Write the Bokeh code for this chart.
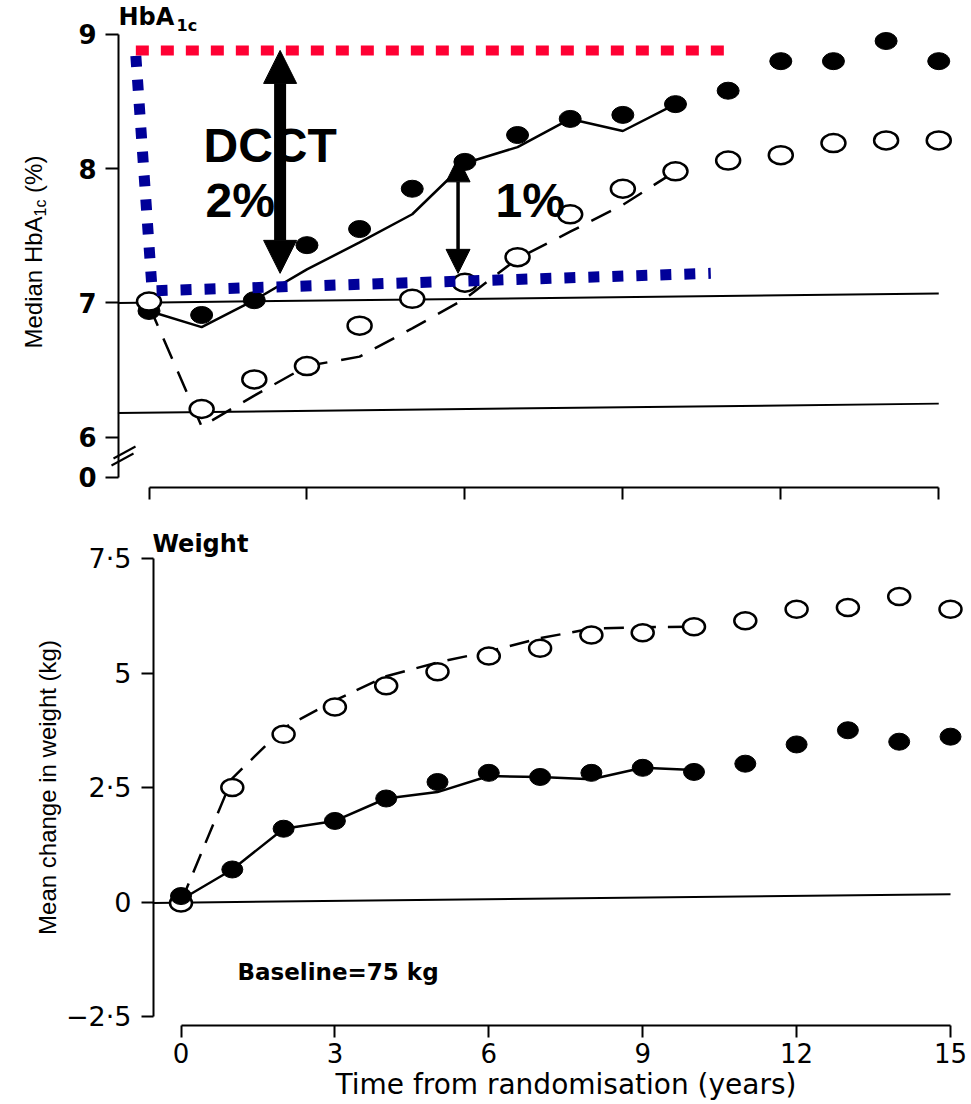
import math
from bokeh.plotting import figure
from bokeh.models import Range1d, FixedTicker, Label, Arrow, NormalHead, LinearAxis
from bokeh.embed import file_html
from bokeh.resources import INLINE

# ---------------- data ----------------
years = list(range(16))
line_years = list(range(11))

hba_conventional = [6.94, 6.91, 7.02, 7.43, 7.55, 7.85, 8.05, 8.25, 8.37, 8.40, 8.48, 8.58, 8.80, 8.80, 8.95, 8.80]
hba_intensive = [7.01, 6.21, 6.43, 6.53, 6.83, 7.03, 7.15, 7.34, 7.66, 7.85, 7.98, 8.06, 8.10, 8.19, 8.21, 8.21]
hba_conventional_line = [6.94, 6.82, 7.02, 7.25, 7.45, 7.66, 8.04, 8.16, 8.37, 8.28, 8.48]
hba_intensive_line = [6.98, 6.08, 6.31, 6.53, 6.60, 6.81, 7.03, 7.33, 7.53, 7.73, 7.98]

wt_conventional = [0.13, 0.71, 1.60, 1.77, 2.26, 2.62, 2.82, 2.73, 2.82, 2.93, 2.84, 3.02, 3.44, 3.75, 3.50, 3.61]
wt_intensive = [-0.02, 2.50, 3.66, 4.26, 4.72, 5.03, 5.37, 5.54, 5.83, 5.88, 6.01, 6.14, 6.39, 6.43, 6.67, 6.39]
wt_conventional_line = [0.05, 0.71, 1.60, 1.77, 2.26, 2.40, 2.75, 2.73, 2.68, 2.93, 2.88]
wt_intensive_line = [0.00, 2.70, 3.80, 4.40, 4.93, 5.23, 5.47, 5.76, 5.97, 6.00, 6.01]

x_ticks = [0, 3, 6, 9, 12, 15]
hba_ticks = [5.7, 6, 7, 8, 9]
hba_tick_labels = {5.7: "0", 6: "6", 7: "7", 8: "8", 9: "9"}
wt_ticks = [-2.5, 0, 2.5, 5, 7.5]
wt_tick_labels = {-2.5: "\u22122\u00b75", 0: "0", 2.5: "2\u00b75", 5: "5", 7.5: "7\u00b75"}

# reference lines
hba_ref_x = [-0.59, 15.0]
hba_ref_hi = [7.00, 7.07]
hba_ref_lo = [6.18, 6.25]
wt_ref_x = [-0.55, 15.0]
wt_ref_y = [-0.02, 0.17]

# DCCT overlay
red_x = [-0.25, 10.93]
red_y = [8.88, 8.88]
blue_x = [-0.25, 0.06, 10.67]
blue_y = [8.84, 7.09, 7.22]
big_arrow_x, big_arrow_y0, big_arrow_y1 = 2.49, 7.22, 8.88
small_arrow_x, small_arrow_y0, small_arrow_y1 = 5.87, 7.22, 8.08

# ---------------- page geometry (one frame covering the whole canvas) ----------------
W, H = 971, 1104
H_X0, H_XS = 148.5, 52.65     # HbA1c panel: px of year 0, px per year
H_Y7, H_YS = 302.4, 134.3     # px of 7 %, px per %
W_X0, W_XS = 180.5, 51.3      # weight panel
W_Y0, W_YS = 901.5, 45.8

BASE_SHIFT = 0.375  # Bokeh label "alphabetic" anchor sits this many em above the drawn baseline


def hx(px):
    return (px - H_X0) / H_XS


def hy(py):
    return 7 + (H_Y7 - py) / H_YS


def wx(px):
    return (px - W_X0) / W_XS


def wy(py):
    return (W_Y0 - py) / W_YS


TICK_FONT = "DejaVu Sans"
LABEL_FONT = "Liberation Sans"

p = figure(width=W, height=H,
           x_range=Range1d(wx(0), wx(W)), y_range=Range1d(wy(H), wy(0)),
           min_border_left=0, min_border_right=0, min_border_top=0, min_border_bottom=0,
           x_axis_location=None, y_axis_location=None,
           output_backend="svg", toolbar_location=None, tools="")
p.extra_x_ranges = {"hba": Range1d(hx(0), hx(W))}
p.extra_y_ranges = {"hba": Range1d(hy(H), hy(0))}
p.xgrid.visible = False
p.ygrid.visible = False
p.outline_line_color = None
p.background_fill_color = "white"
p.border_fill_color = "white"

HR = dict(x_range_name="hba", y_range_name="hba")


def style_axis(ax, tick_out):
    ax.axis_line_width = 2
    ax.axis_line_color = "black"
    ax.major_tick_line_width = 2
    ax.major_tick_line_color = "black"
    ax.major_tick_out = tick_out
    ax.major_tick_in = 0
    ax.minor_tick_out = 0
    ax.minor_tick_in = 0
    ax.major_label_text_color = "black"
    ax.axis_label_text_color = "black"


# ---- HbA1c panel axes ----
hba_yaxis = LinearAxis(fixed_location=hx(118), ticker=FixedTicker(ticks=hba_ticks), bounds=(5.7, 9), **HR)
style_axis(hba_yaxis, 13)
hba_yaxis.major_label_overrides = hba_tick_labels
hba_yaxis.major_label_standoff = 9
hba_yaxis.major_label_text_font = TICK_FONT
hba_yaxis.major_label_text_font_style = "bold"
hba_yaxis.major_label_text_font_size = "26px"
p.add_layout(hba_yaxis, "left")

hba_xaxis = LinearAxis(fixed_location=hy(487), ticker=FixedTicker(ticks=x_ticks), bounds=(0, 15), **HR)
style_axis(hba_xaxis, 12)
hba_xaxis.major_label_overrides = {t: "" for t in x_ticks}
p.add_layout(hba_xaxis, "below")

# ---- weight panel axes ----
wt_yaxis = LinearAxis(fixed_location=wx(153), ticker=FixedTicker(ticks=wt_ticks), bounds=(-2.5, 7.5))
style_axis(wt_yaxis, 12)
wt_yaxis.major_label_overrides = wt_tick_labels
wt_yaxis.major_label_standoff = 10
wt_yaxis.major_label_text_font = TICK_FONT
wt_yaxis.major_label_text_font_size = "27px"
wt_yaxis.axis_label = "Mean change in weight (kg)"
wt_yaxis.axis_label_text_font = LABEL_FONT
wt_yaxis.axis_label_text_font_style = "normal"
wt_yaxis.axis_label_text_font_size = "24px"
wt_yaxis.axis_label_standoff = 2
p.add_layout(wt_yaxis, "left")

wt_xaxis = LinearAxis(fixed_location=wy(1025), ticker=FixedTicker(ticks=x_ticks), bounds=(0, 15))
style_axis(wt_xaxis, 12)
wt_xaxis.major_label_standoff = 5
wt_xaxis.major_label_text_font = TICK_FONT
wt_xaxis.major_label_text_font_size = "26px"
wt_xaxis.axis_label = "Time from randomisation (years)"
wt_xaxis.axis_label_text_font = TICK_FONT
wt_xaxis.axis_label_text_font_style = "normal"
wt_xaxis.axis_label_text_font_size = "28px"
wt_xaxis.axis_label_standoff = 2
p.add_layout(wt_xaxis, "below")

# ---- HbA1c panel data ----
p.line(hba_ref_x, hba_ref_hi, line_color="black", line_width=2, **HR)
p.line(hba_ref_x, hba_ref_lo, line_color="black", line_width=2, **HR)
p.line(line_years, hba_conventional_line, line_color="black", line_width=2.5, **HR)
p.line(line_years, hba_intensive_line, line_color="black", line_width=2.5, line_dash="22 14", **HR)
p.ellipse(years, hba_conventional, width=22, height=17, width_units="screen", height_units="screen",
          fill_color="black", line_color="black", **HR)
p.ellipse(years, hba_intensive, width=24, height=18, width_units="screen", height_units="screen",
          fill_color="white", line_color="black", line_width=2.5, **HR)

p.line(blue_x, blue_y, line_color="#000099", line_width=11, line_dash="11 13", **HR)
p.line(red_x, red_y, line_color="#ff0033", line_width=10, line_dash="13 12", **HR)


def hlabel(text, px, py, size, font, style="normal", rng=None, angle=0.0):
    """Label whose drawn baseline lands at page pixel (px, py)."""
    shift = BASE_SHIFT * size
    if angle:
        px = px - shift
    else:
        py = py - shift
    if rng == "hba":
        return Label(x=hx(px), y=hy(py), text=text, text_font=font, text_font_style=style,
                     text_font_size=f"{size}px", text_color="black", text_align="left",
                     text_baseline="alphabetic", angle=angle, **HR)
    return Label(x=wx(px), y=wy(py), text=text, text_font=font, text_font_style=style,
                 text_font_size=f"{size}px", text_color="black", text_align="left",
                 text_baseline="alphabetic", angle=angle)


for txt, px, py in [("DCCT", 203, 163), ("2%", 205, 218), ("1%", 495, 218)]:
    p.add_layout(hlabel(txt, px, py, 48, LABEL_FONT, "bold", rng="hba"))

p.add_layout(Arrow(x_start=big_arrow_x, y_start=big_arrow_y0, x_end=big_arrow_x, y_end=big_arrow_y1,
                   line_width=12, line_color="black",
                   start=NormalHead(size=33, fill_color="black", line_color="black", line_width=1),
                   end=NormalHead(size=33, fill_color="black", line_color="black", line_width=1), **HR))
p.add_layout(Arrow(x_start=small_arrow_x, y_start=small_arrow_y0, x_end=small_arrow_x, y_end=small_arrow_y1,
                   line_width=3.5, line_color="black",
                   start=NormalHead(size=24, fill_color="black", line_color="black", line_width=1),
                   end=NormalHead(size=24, fill_color="black", line_color="black", line_width=1), **HR))

# axis break marks
for (x0, y0, x1, y1) in [(111, 465, 133, 453), (113, 458, 135, 446)]:
    p.add_layout(Arrow(x_start=hx(x0), y_start=hy(y0), x_end=hx(x1), y_end=hy(y1),
                       end=None, line_width=2, line_color="black", **HR))

# panel title HbA1c
p.add_layout(hlabel("HbA", 118, 25, 24, TICK_FONT, "bold", rng="hba"))
p.add_layout(hlabel("1c", 176, 31, 16, TICK_FONT, "bold", rng="hba"))

# rotated y label "Median HbA1c (%)"
half_pi = math.pi / 2
p.add_layout(hlabel("Median HbA", 42, 348, 24, LABEL_FONT, rng="hba", angle=half_pi))
p.add_layout(hlabel("1c", 46, 216, 16, LABEL_FONT, rng="hba", angle=half_pi))
p.add_layout(hlabel("(%)", 42, 192.4, 24, LABEL_FONT, rng="hba", angle=half_pi))

# ---- weight panel data ----
p.line(wt_ref_x, wt_ref_y, line_color="black", line_width=2)
p.line(line_years, wt_intensive_line, line_color="black", line_width=2.5, line_dash="20 12")
p.line(line_years, wt_conventional_line, line_color="black", line_width=2.5)
p.ellipse(years, wt_intensive, width=22, height=17, width_units="screen", height_units="screen",
          fill_color="white", line_color="black", line_width=2.5)
p.ellipse(years, wt_conventional, width=21, height=17, width_units="screen", height_units="screen",
          fill_color="black", line_color="black")

p.add_layout(hlabel("Weight", 152, 552, 24, TICK_FONT, "bold"))
p.add_layout(hlabel("Baseline=75 kg", 237, 980, 23, TICK_FONT, "bold"))

open("out.html", "w").write(file_html(p, INLINE, title="HbA1c and weight"))
